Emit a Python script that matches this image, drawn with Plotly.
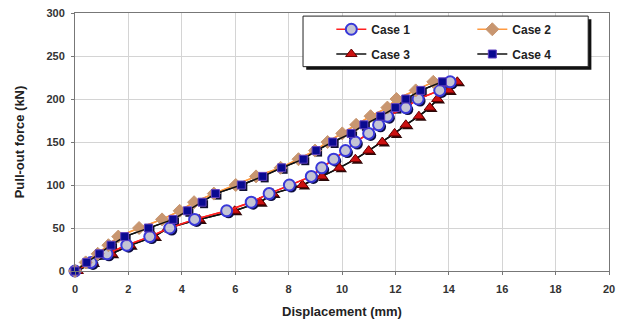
import plotly.graph_objects as go

force = [0, 10, 20, 30, 40, 50, 60, 70, 80, 90, 100, 110, 120, 130, 140, 150, 160, 170, 180, 190, 200, 210, 220]

case1_x = [0.0, 0.6, 1.2, 1.94, 2.8, 3.55, 4.48, 5.68, 6.6, 7.27, 8.03, 8.85, 9.24, 9.69, 10.13, 10.5, 11.0, 11.37, 11.7, 12.39, 12.85, 13.66, 14.05]
case2_x = [0.0, 0.4, 0.85, 1.25, 1.62, 2.4, 3.26, 3.92, 4.46, 5.2, 6.02, 6.78, 7.7, 8.37, 8.99, 9.46, 10.01, 10.53, 11.07, 11.7, 12.04, 12.76, 13.42]
case3_x = [0.1, 0.65, 1.37, 2.06, 2.97, 3.48, 4.65, 5.98, 6.93, 7.41, 8.52, 9.25, 9.9, 10.5, 11.0, 11.51, 11.97, 12.39, 12.88, 13.29, 13.57, 14.01, 14.32]
case4_x = [0.0, 0.44, 0.91, 1.35, 1.86, 2.75, 3.67, 4.21, 4.76, 5.26, 6.23, 7.03, 7.74, 8.55, 9.03, 9.65, 10.34, 10.82, 11.45, 12.0, 12.39, 12.95, 13.76]

x_ticks = [0, 2, 4, 6, 8, 10, 12, 14, 16, 18, 20]
y_ticks = [0, 50, 100, 150, 200, 250, 300]

X_RANGE = [0, 20]
Y_RANGE = [0, 300]

series = [
    # name, x values, line colour, marker symbol, size, fill, outline, shadow colour, legend, rank
    ("Case 3", case3_x, "#111111", "triangle-up", 10, "#cc1010", "#660000", "#2a0808", "legend2", 1),
    ("Case 1", case1_x, "#ff2020", "circle", 11, "#c4c4d4", "#3838d8", "#0c0c40", "legend", 1),
    ("Case 2", case2_x, "#ff9a40", "diamond", 10, "#c89670", "#c89670", None, "legend", 2),
    ("Case 4", case4_x, "#111111", "square", 8, "#0a0a90", "#6040c0", "#101030", "legend2", 2),
]

fig = go.Figure()

# 1) connecting lines on the main (visible) axes
for name, xs, lc, sym, size, fill, outline, shadow, leg, rank in series:
    fig.add_trace(go.Scatter(
        x=xs, y=force, mode="lines", showlegend=False, hoverinfo="skip",
        line=dict(color=lc, width=1.5),
    ))

# 2) drop shadows of the markers on an invisible overlay shifted by ~2 px
for name, xs, lc, sym, size, fill, outline, shadow, leg, rank in series:
    if shadow is None:
        continue
    fig.add_trace(go.Scatter(
        x=xs, y=force, mode="markers", xaxis="x2", yaxis="y2", showlegend=False,
        hoverinfo="skip", cliponaxis=False,
        marker=dict(symbol=sym, size=size, color=shadow, line=dict(width=0)),
    ))

# 3) the series themselves
for name, xs, lc, sym, size, fill, outline, shadow, leg, rank in series:
    fig.add_trace(go.Scatter(
        x=xs, y=force, name=name, mode="lines+markers", legend=leg, legendrank=rank,
        xaxis="x3", yaxis="y3", cliponaxis=False,
        line=dict(color=lc, width=1.5),
        marker=dict(symbol=sym, size=size, color=fill, line=dict(color=outline, width=2 if sym == "circle" else 1)),
    ))

# legend box with shadow
fig.add_shape(type="rect", xref="paper", yref="paper", x0=0.433, x1=0.967, y0=0.780, y1=0.976,
              line=dict(width=0), fillcolor="#111111", layer="above")
fig.add_shape(type="rect", xref="paper", yref="paper", x0=0.427, x1=0.961, y0=0.792, y1=0.988,
              line=dict(color="#222222", width=1), fillcolor="white", layer="above")

legend_common = dict(
    orientation="h", xanchor="left", yanchor="middle",
    bgcolor="rgba(0,0,0,0)", borderwidth=0,
    font=dict(family="Liberation Sans, Arial, sans-serif", size=12, color="#222222", weight="bold"),
    entrywidth=96, itemwidth=30,
)

PLOT_W, PLOT_H = 534.0, 258.0
hidden = dict(visible=False, showgrid=False, zeroline=False, automargin=False)
px_x = (X_RANGE[1] - X_RANGE[0]) / PLOT_W
px_y = (Y_RANGE[1] - Y_RANGE[0]) / PLOT_H

axis_common = dict(
    automargin=False,
    showgrid=True, gridcolor="#d4d4d4", gridwidth=1,
    showline=True, linecolor="#777777", linewidth=1, mirror=True,
    ticks="outside", ticklen=3, tickcolor="#777777",
    zeroline=False, ticklabeloverflow="allow",
    tickfont=dict(size=11, color="#333333", weight="bold"),
)

fig.update_layout(
    width=609, height=311,
    margin=dict(l=67, r=8, t=5, b=48, autoexpand=False),
    paper_bgcolor="white", plot_bgcolor="white",
    font=dict(family="Liberation Sans, Arial, sans-serif", color="#333333"),
    legend=dict(x=0.480, y=0.937, **legend_common),
    legend2=dict(x=0.480, y=0.841, **legend_common),
    xaxis=dict(
        range=X_RANGE, tickvals=x_ticks, ticktext=[str(v) for v in x_ticks],
        ticklabelstandoff=5,
        title=dict(text="Displacement (mm)", font=dict(size=13, color="#222222", weight="bold"), standoff=12),
        **axis_common,
    ),
    yaxis=dict(
        range=Y_RANGE, tickvals=y_ticks, ticktext=[str(v) for v in y_ticks],
        ticklabelstandoff=4,
        title=dict(text="Pull-out force (kN)", font=dict(size=13, color="#222222", weight="bold"), standoff=18),
        **axis_common,
    ),
    xaxis2=dict(overlaying="x", range=[X_RANGE[0] - 2 * px_x, X_RANGE[1] - 2 * px_x], **hidden),
    yaxis2=dict(overlaying="y", range=[Y_RANGE[0] + 2 * px_y, Y_RANGE[1] + 2 * px_y], **hidden),
    xaxis3=dict(overlaying="x", range=X_RANGE, **hidden),
    yaxis3=dict(overlaying="y", range=Y_RANGE, **hidden),
)

fig.write_html("out.html")
